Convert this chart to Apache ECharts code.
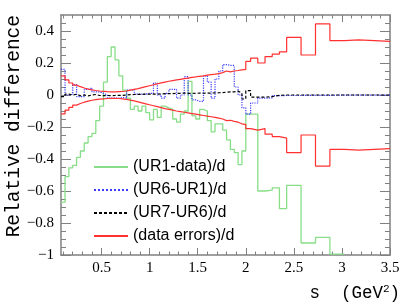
<!DOCTYPE html>
<html><head><meta charset="utf-8">
<script src="https://cdn.jsdelivr.net/npm/echarts@6/dist/echarts.min.js"></script>
<style>html,body{margin:0;padding:0;background:#fff}#c{width:407px;height:305px}</style>
</head><body><div id="c"></div>
<script>
// bin edges in s (GeV^2)
const binEdges = [0.078,0.12,0.16,0.20,0.24,0.28,0.32,0.36,0.40,0.44,0.48,0.52,0.56,0.60,0.64,0.68,0.72,0.76,0.80,0.84,0.88,0.92,0.96,1.00,1.04,1.08,1.12,1.16,1.20,1.24,1.28,1.32,1.36,1.40,1.44,1.48,1.52,1.56,1.60,1.64,1.68,1.72,1.76,1.80,1.84,1.88,1.92,1.96,2.00,2.05,2.125,2.2,2.275,2.35,2.425,2.575,2.725,2.875,3.025,3.175,3.5];

// (UR1-data)/d
const ur1Data = [-0.67,-0.51,-0.455,-0.44,-0.39,-0.35,-0.30,-0.26,-0.24,-0.16,-0.07,0.08,0.24,0.30,0.22,0.12,0.03,-0.02,-0.09,-0.07,-0.10,-0.07,-0.11,-0.155,-0.09,-0.14,-0.07,-0.08,-0.09,-0.15,-0.17,-0.12,-0.10,0.085,-0.13,-0.15,-0.09,-0.10,-0.16,-0.23,-0.18,-0.18,-0.22,-0.28,-0.34,-0.36,-0.435,-0.35,
  -0.12,-0.12,-0.60,-0.595,-0.58,-0.71,-0.565,-0.925,-0.89,-0.995,null,null];
// (UR6-UR1)/d
const ur6Ur1 = [0.16,0.0,0.005,0.065,-0.01,-0.01,0.035,0.045,0.02,0.02,0.01,0.0,-0.02,-0.02,-0.02,-0.015,-0.02,0.03,0.035,0.005,0.005,0.005,0.01,0.01,0.075,0.0,-0.02,0.01,0.035,0.035,-0.02,0.0,0.115,0.0,-0.03,-0.04,-0.04,0.12,0.08,-0.02,0.10,0.15,0.19,0.185,0.185,0.05,0.0,-0.08,
  -0.12,-0.05,-0.02,-0.018,-0.004,-0.003,-0.003,-0.002,-0.002,-0.001,-0.001,-0.001];
// (UR7-UR6)/d
const ur7Ur6 = [-0.01,0.005,0.0,0.005,-0.005,0.0,-0.005,0.0,0.003,-0.003,-0.004,-0.003,-0.004,-0.003,-0.002,-0.002,0.0,0.002,0.003,0.004,0.004,0.005,0.005,0.006,0.006,0.007,0.008,0.008,0.009,0.01,0.01,0.012,0.01,0.011,0.01,0.012,0.011,0.012,0.012,0.013,0.014,0.015,0.018,0.02,0.02,0.024,0.012,-0.025,
  0.027,-0.013,-0.013,-0.01,-0.002,0.0,0.0,0.0,0.0,0.0,0.0,0.0];
// +(data errors)/d
const errUp = [0.12,0.095,0.075,0.062,0.052,0.044,0.037,0.032,0.028,0.025,0.023,0.021,0.02,0.02,0.021,0.022,0.025,0.03,0.035,0.04,0.046,0.052,0.058,0.064,0.07,0.076,0.081,0.086,0.09,0.094,0.098,0.102,0.106,0.11,0.113,0.117,0.12,0.124,0.127,0.13,0.134,0.14,0.15,0.145,0.15,0.153,0.157,0.16,
  0.21,0.23,0.20,0.24,0.256,0.27,0.36,0.25,0.444,0.34,0.345,0.335];
// -(data errors)/d
const errDown = [-0.118,-0.095,-0.077,-0.063,-0.053,-0.045,-0.038,-0.033,-0.029,-0.026,-0.024,-0.022,-0.021,-0.021,-0.022,-0.024,-0.027,-0.032,-0.037,-0.043,-0.049,-0.055,-0.061,-0.067,-0.073,-0.079,-0.085,-0.09,-0.095,-0.1,-0.104,-0.108,-0.112,-0.116,-0.12,-0.124,-0.128,-0.132,-0.136,-0.14,-0.145,-0.15,-0.16,-0.158,-0.165,-0.17,-0.18,-0.185,
  -0.21,-0.22,-0.21,-0.245,-0.26,-0.27,-0.36,-0.25,-0.444,-0.34,-0.345,-0.335];

const seriesNames = ['(UR1-data)/d','(UR6-UR1)/d','(UR7-UR6)/d','(data errors)/d'];

const xMajorTicks = [0.5,1,1.5,2,2.5,3,3.5];
const xMinorTicks = [0.1,0.2,0.3,0.4,0.6,0.7,0.8,0.9,1.1,1.2,1.3,1.4,1.6,1.7,1.8,1.9,2.1,2.2,2.3,2.4,2.6,2.7,2.8,2.9,3.1,3.2,3.3,3.4];
const yMajorTicks = [-1,-0.8,-0.6,-0.4,-0.2,0,0.2,0.4];
const yMinorTicks = [-0.95,-0.9,-0.85,-0.75,-0.7,-0.65,-0.55,-0.5,-0.45,-0.35,-0.3,-0.25,-0.15,-0.1,-0.05,0.05,0.1,0.15,0.25,0.3,0.35,0.45];

function steps(vals){
  const pts = [];
  let last = null;
  for (let i = 0; i < vals.length; i++) {
    if (vals[i] == null) break;
    pts.push([binEdges[i], vals[i]]);
    last = i;
  }
  pts.push([binEdges[last + 1], vals[last]]);
  return pts;
}

const frameColor = '#808080';
const fmt = v => (v < 0 ? '\u2212' + String(Math.abs(v)) : String(v));

function xAx(pos, ticks, len, labels, line){
  return {type:'value', min:0.078, max:3.5, position:pos,
    axisLine:{show:line, onZero:false, lineStyle:{color:frameColor, width:1.5}},
    axisTick:{show:true, inside:true, length:len, customValues:ticks, lineStyle:{color:frameColor, width:1}},
    axisLabel: labels ? {show:true, customValues:ticks, formatter:fmt, color:'#000', fontFamily:'Liberation Serif', fontSize:15, margin:6} : {show:false},
    splitLine:{show:false}};
}
function yAx(pos, ticks, len, labels, line){
  return {type:'value', min:-1, max:0.5, position:pos,
    axisLine:{show:line, onZero:false, lineStyle:{color:frameColor, width:1.5}},
    axisTick:{show:true, inside:true, length:len, customValues:ticks, lineStyle:{color:frameColor, width:1}},
    axisLabel: labels ? {show:true, customValues:ticks, formatter:fmt, color:'#000', fontFamily:'Liberation Serif', fontSize:15, margin:7} : {show:false},
    splitLine:{show:false}};
}

const chart = echarts.init(document.getElementById('c'), null, {renderer:'canvas'});
const red = '#ff3030';
const green = '#88de88';
chart.setOption({
  animation:false,
  backgroundColor:'#fff',
  grid:{left:61, right:17, top:15, bottom:50, containLabel:false},
  xAxis:[
    xAx('bottom', xMajorTicks, 7, true, true),
    xAx('bottom', xMinorTicks, 3.5, false, false),
    xAx('top', xMajorTicks, 7, false, true),
    xAx('top', xMinorTicks, 3.5, false, false)
  ],
  yAxis:[
    yAx('left', yMajorTicks, 10, true, true),
    yAx('left', yMinorTicks, 5, false, false),
    yAx('right', yMajorTicks, 10, false, true),
    yAx('right', yMinorTicks, 5, false, false)
  ],
  legend:{
    orient:'vertical', left:88, top:154, itemWidth:34, itemHeight:14, itemGap:7,
    data:seriesNames,
    itemStyle:{opacity:0},
    textStyle:{fontFamily:'Liberation Sans', fontSize:16, color:'#000'}
  },
  graphic:[
    {type:'text', x:14, y:15, rotation:Math.PI/2,
      style:{text:'Relative difference', font:'19.5px "Liberation Mono"', fill:'#000', align:'right', verticalAlign:'middle'}},
    {type:'text', x:400, y:293,
      style:{text:'{a|s  (GeV}{b|2}{a|)}', align:'right', verticalAlign:'middle',
        rich:{a:{fontFamily:'Liberation Mono', fontSize:17.5, fill:'#000', lineHeight:19},
              b:{fontFamily:'Liberation Mono', fontSize:11, fill:'#000', verticalAlign:'top', lineHeight:19}}}}
  ],
  series:[
    {name:seriesNames[0], type:'line', step:'end', symbol:'none', data:steps(ur1Data),
      lineStyle:{color:green, width:1.3}, itemStyle:{color:green}},
    {name:seriesNames[1], type:'line', step:'end', symbol:'none', data:steps(ur6Ur1),
      lineStyle:{color:'#3a3aff', width:1.2, type:'dotted'}, itemStyle:{color:'#3a3aff'}},
    {name:seriesNames[2], type:'line', step:'end', symbol:'none', data:steps(ur7Ur6),
      lineStyle:{color:'#000', width:1.2, type:[3,2]}, itemStyle:{color:'#000'}},
    {name:seriesNames[3], type:'line', step:'end', symbol:'none', data:steps(errUp),
      lineStyle:{color:red, width:1.2}, itemStyle:{color:red}},
    {name:seriesNames[3], type:'line', step:'end', symbol:'none', data:steps(errDown),
      lineStyle:{color:red, width:1.2}, itemStyle:{color:red}}
  ]
});
</script></body></html>
